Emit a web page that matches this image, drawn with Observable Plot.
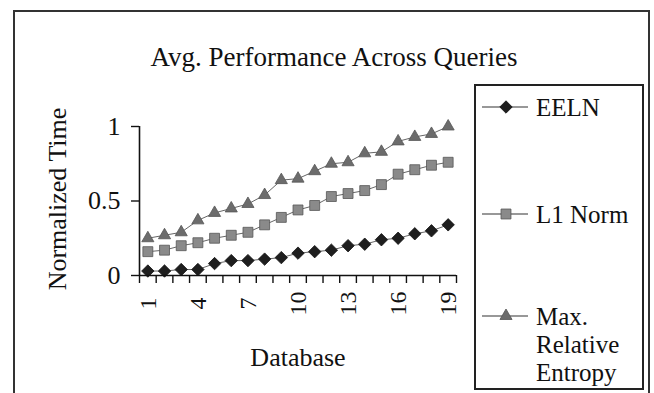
<!DOCTYPE html>
<html>
<head>
<meta charset="utf-8">
<script src="https://cdn.jsdelivr.net/npm/d3@7"></script>
<script src="https://cdn.jsdelivr.net/npm/@observablehq/plot@0.6"></script>
<style>
  html, body { margin: 0; padding: 0; background: #fff; }
  #wrap { position: relative; width: 654px; height: 393px; overflow: hidden; background: #fff; }
  #wrap svg { position: absolute; left: 0; top: 0; }
  .outer { position: absolute; left: 13px; top: 10px; width: 637px; height: 420px; border: 2px solid #333; box-sizing: border-box; }
</style>
</head>
<body>
<div id="wrap">
  <div class="outer"></div>
</div>
<script>
// ---- data ----
const databases = [1, 2, 3, 4, 5, 6, 7, 8, 9, 10, 11, 12, 13, 14, 15, 16, 17, 18, 19];
const eeln      = [0.03, 0.03, 0.04, 0.04, 0.08, 0.10, 0.10, 0.11, 0.12, 0.15, 0.16, 0.17, 0.20, 0.21, 0.24, 0.25, 0.28, 0.30, 0.34];
const l1Norm    = [0.16, 0.17, 0.20, 0.22, 0.25, 0.27, 0.29, 0.34, 0.39, 0.44, 0.47, 0.53, 0.55, 0.57, 0.61, 0.68, 0.71, 0.74, 0.76];
const maxRelEnt = [0.25, 0.27, 0.29, 0.37, 0.42, 0.45, 0.48, 0.54, 0.64, 0.65, 0.70, 0.75, 0.76, 0.82, 0.83, 0.90, 0.93, 0.95, 1.00];
const seriesNames = ["EELN", "L1 Norm", "Max. Relative Entropy"];
const xTickLabels = [1, 4, 7, 10, 13, 16, 19];
const yTicks = [0, 0.5, 1];
const yTickLabels = ["0", "0.5", "1"];
const titleText = "Avg. Performance Across Queries";
const xLabel = "Database";
const yLabel = "Normalized Time";

const styles = [
  {symbol: "diamond2", r: 5.6, fill: "#1e1e1e", stroke: "#111"},
  {symbol: "square",   r: 5.6, fill: "#8a8a8a", stroke: "#555"},
  {symbol: "triangle", r: 4.5, fill: "#6c6c6c", stroke: "#555"}
];
const values = [eeln, l1Norm, maxRelEnt];
const rows = [];
seriesNames.forEach((s, i) => databases.forEach((d, j) => rows.push({series: s, db: d, v: values[i][j]})));

const boundaries = d3.range(databases.length + 1).map(i => databases[0] - 0.5 + i);
const font = "Liberation Serif, Times New Roman, serif";

const marks = [];
seriesNames.forEach((s, i) => {
  const data = rows.filter(r => r.series === s);
  marks.push(Plot.line(data, {x: "db", y: "v", stroke: "#666", strokeWidth: 1}));
});
seriesNames.forEach((s, i) => {
  const data = rows.filter(r => r.series === s);
  const st = styles[i];
  marks.push(Plot.dot(data, {x: "db", y: "v", symbol: () => st.symbol, r: st.r, fill: st.fill, stroke: st.stroke, strokeWidth: 0.8}));
});
marks.push(Plot.ruleY([0], {stroke: "#111", strokeWidth: 1.6}));
marks.push(Plot.ruleX([boundaries[0]], {stroke: "#111", strokeWidth: 1.6}));
marks.push(Plot.axisX(boundaries, {tickSize: 8, tickFormat: () => "", stroke: "#111", strokeWidth: 1.4, label: null}));
marks.push(Plot.axisY(yTicks, {tickSize: 8, tickPadding: 11, tickFormat: (d, i) => yTickLabels[i], stroke: "#111", strokeWidth: 1.4, label: null, fontSize: 26, fill: "#111"}));
marks.push(Plot.text(xTickLabels, {x: d => d, text: d => String(d), frameAnchor: "bottom", dy: 28, rotate: -90, textAnchor: "middle", lineAnchor: "middle", fontSize: 24, fill: "#111"}));

const chart = Plot.plot({
  width: 654,
  height: 393,
  marginLeft: 139,
  marginRight: 198,
  marginTop: 126,
  marginBottom: 118,
  style: {fontFamily: font, background: "transparent", overflow: "visible"},
  x: {type: "linear", domain: [boundaries[0], boundaries[boundaries.length - 1]], axis: null},
  y: {domain: [0, 1], axis: null},
  symbol: {type: "identity"},
  marks
});
document.getElementById("wrap").appendChild(chart);

// ---- overlay: title, axis titles, legend ----
const ov = d3.select("#wrap").append("svg").attr("width", 654).attr("height", 393)
  .style("font-family", font).attr("fill", "#111");

ov.append("text").attr("x", 334).attr("y", 57).attr("text-anchor", "middle")
  .attr("dominant-baseline", "central").attr("font-size", 27).text(titleText);
ov.append("text").attr("transform", "translate(57,199) rotate(-90)").attr("text-anchor", "middle")
  .attr("dominant-baseline", "central").attr("font-size", 26).text(yLabel);
ov.append("text").attr("x", 298).attr("y", 357).attr("text-anchor", "middle")
  .attr("dominant-baseline", "central").attr("font-size", 26).text(xLabel);

// legend box
ov.append("rect").attr("x", 475).attr("y", 85).attr("width", 168).attr("height", 304)
  .attr("fill", "none").attr("stroke", "#222").attr("stroke-width", 2);
const legendY = [107, 214, 316];
const legendLines = [["EELN"], ["L1 Norm"], ["Max.", "Relative", "Entropy"]];
seriesNames.forEach((s, i) => {
  const g = ov.append("g").attr("transform", `translate(0,${legendY[i]})`);
  g.append("line").attr("x1", 482).attr("x2", 528).attr("stroke", "#333").attr("stroke-width", 1.2);
  const st = styles[i];
  const sym = {diamond2: d3.symbolDiamond2, square: d3.symbolSquare, triangle: d3.symbolTriangle}[st.symbol];
  g.append("path").attr("transform", "translate(506,0)")
    .attr("d", d3.symbol(sym, st.r * st.r * Math.PI)())
    .attr("fill", st.fill).attr("stroke", st.stroke).attr("stroke-width", 0.8);
  legendLines[i].forEach((t, k) => {
    g.append("text").attr("x", 536).attr("y", k * 28).attr("dominant-baseline", "central")
      .attr("font-size", 25).text(t);
  });
});
</script>
</body>
</html>
